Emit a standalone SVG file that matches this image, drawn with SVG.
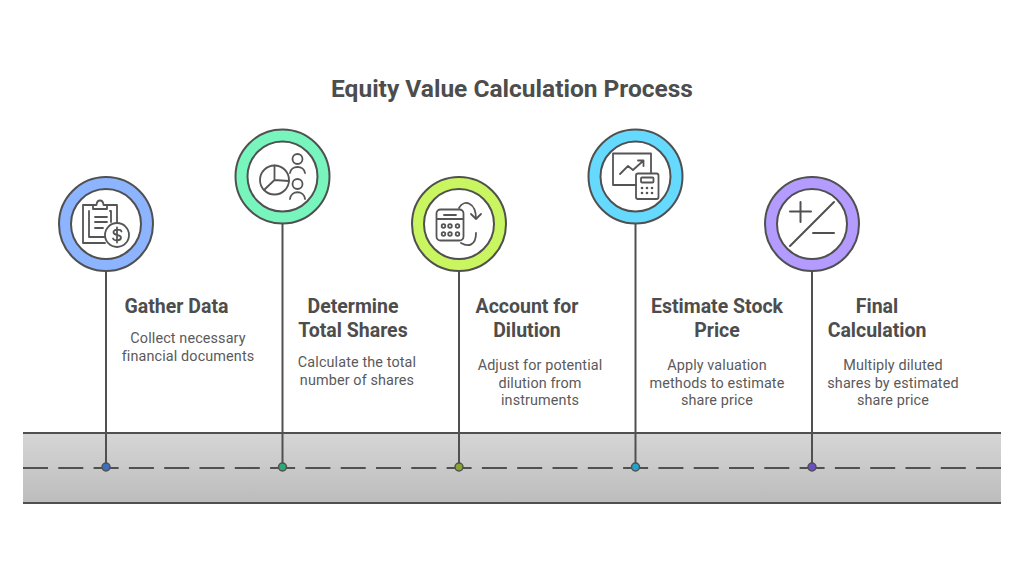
<svg xmlns="http://www.w3.org/2000/svg" width="1024" height="578" viewBox="0 0 1024 578">
<style>
text{font-family:"Roboto","Liberation Sans",sans-serif;text-anchor:middle}
.t{font-size:19.500px;font-weight:700;fill:#4d4d4d}
.d{font-size:14.400px;fill:#5a5a5a;letter-spacing:.12px}
.l{fill:none;stroke:#505050;stroke-width:2;stroke-linecap:round;stroke-linejoin:round}
.b{fill:none;stroke:#505050;stroke-width:2}
.i{fill:none;stroke:#555;stroke-width:1.800;stroke-linecap:round;stroke-linejoin:round}
.o{stroke:#505050;stroke-width:2}
.w{fill:#fff;stroke:#505050;stroke-width:2}
.p{stroke:#505050;stroke-width:1.500}
.f{fill:#555}
</style>
<defs>
<linearGradient id="road" x1="0" y1="0" x2="0" y2="1"><stop offset="0" stop-color="#d6d6d6"/><stop offset="1" stop-color="#bcbcbc"/></linearGradient>
</defs>
<rect width="1024" height="578" fill="#fff"/>
<text x="512" y="97" font-size="24.500" font-weight="700" fill="#4d4d4d">Equity Value Calculation Process</text>
<g id="road-band">
<rect x="23" y="433" width="978" height="70" fill="url(#road)"/>
<path class="b" d="M23 433H1001M23 503H1001"/>
<path class="b" stroke-dasharray="25 10.300" d="M23 468H1001"/>
</g>
<g id="connectors">
<path class="b" d="M106 271V467M282.500 224V467M459 271V467M635.500 224V467M812 271V467"/>
<circle class="p" cx="106" cy="467" r="4" fill="#3b6fc4"/>
<circle class="p" cx="282.500" cy="467" r="4" fill="#2fa878"/>
<circle class="p" cx="459" cy="467" r="4" fill="#86a52e"/>
<circle class="p" cx="635.500" cy="467" r="4" fill="#1fa3cf"/>
<circle class="p" cx="812" cy="467" r="4" fill="#6a4fc4"/>
</g>
<g id="node-gather">
<circle class="o" cx="106" cy="224" r="47" fill="#8cb4ff"/>
<circle class="w" cx="106" cy="224" r="35"/>
<path class="i" d="M105 243H83V205H93M107 205H117V222M93 205V209H107V205H103.500C103 199 97 199 96.500 205H93"/>
<path class="i" d="M105 237H89V211M110 211H111V222M95 217H107M95 222H107M95 228H103"/>
<circle class="i" cx="117" cy="235" r="12"/>
<path class="i" d="M121.500 231.500C120.500 229 113 229 113.500 232.500C114 236 121.500 234 121 238C120.500 241 114 241 113 238.500M117 227.500V242.500"/>
<text class="t" x="176.500" y="313">Gather Data</text>
<text class="d" x="188" y="343">Collect necessary</text>
<text class="d" x="188" y="361">financial documents</text>
</g>
<g id="node-shares">
<circle class="o" cx="282.500" cy="176.500" r="47" fill="#78f5bc"/>
<circle class="w" cx="282.500" cy="176.500" r="35"/>
<circle class="i" cx="274.500" cy="180" r="14.500"/>
<path class="i" d="M274.500 165.500V180L289 181M274.500 180L264 190"/>
<circle class="i" cx="297.500" cy="159" r="5"/>
<path class="i" d="M290 173C291 165 304 165 305 173"/>
<circle class="i" cx="297.500" cy="184" r="5"/>
<path class="i" d="M290 199C291 190 304 190 305 199"/>
<text class="t" x="353" y="313">Determine</text>
<text class="t" x="353" y="336.500">Total Shares</text>
<text class="d" x="357" y="367">Calculate the total</text>
<text class="d" x="357" y="385">number of shares</text>
</g>
<g id="node-dilution">
<circle class="o" cx="459" cy="224" r="47" fill="#c8f560"/>
<circle class="w" cx="459" cy="224" r="35"/>
<rect class="i" x="436.500" y="209.500" width="27" height="31" rx="4"/>
<path class="i" d="M437 219H463M444 215H456"/>
<circle class="i" cx="443.500" cy="226" r="1.800"/><circle class="i" cx="450" cy="226" r="1.800"/><circle class="i" cx="457.500" cy="226" r="1.800"/>
<circle class="i" cx="443.500" cy="234" r="1.800"/><circle class="i" cx="450" cy="234" r="1.800"/><circle class="i" cx="457.500" cy="234" r="1.800"/>
<path class="i" d="M459 208C464 199 476 202 476 219M471 214L476 219L481 214M476 233C476 246 468 247 461 243"/>
<text class="t" x="527" y="313">Account for</text>
<text class="t" x="527" y="336.500">Dilution</text>
<text class="d" x="540" y="370">Adjust for potential</text>
<text class="d" x="540" y="388">dilution from</text>
<text class="d" x="540" y="405">instruments</text>
</g>
<g id="node-price">
<circle class="o" cx="635.500" cy="176.500" r="47" fill="#66d9ff"/>
<circle class="w" cx="635.500" cy="176.500" r="35"/>
<path class="i" d="M636 185H613V153.500H651V173"/>
<path class="i" d="M620 174L628 166L633 170L643 161M638 160.500H643.500V166"/>
<rect class="i" x="636" y="173.500" width="22.500" height="25.500" rx="2"/>
<rect class="i" x="641" y="177.500" width="12.500" height="5" rx="1"/>
<g class="f"><circle cx="642" cy="188" r="1.300"/><circle cx="647" cy="188" r="1.300"/><circle cx="652" cy="188" r="1.300"/><circle cx="642" cy="193" r="1.300"/><circle cx="647" cy="193" r="1.300"/><circle cx="652" cy="193" r="1.300"/></g>
<text class="t" x="717" y="313">Estimate Stock</text>
<text class="t" x="717" y="336.500">Price</text>
<text class="d" x="717" y="370">Apply valuation</text>
<text class="d" x="717" y="388">methods to estimate</text>
<text class="d" x="717" y="405">share price</text>
</g>
<g id="node-final">
<circle class="o" cx="812" cy="224" r="47" fill="#b49bff"/>
<circle class="w" cx="812" cy="224" r="35"/>
<path class="l" d="M790 211.500H811M800.500 202V222M813 233H834M790 246L834 202"/>
<text class="t" x="877" y="313">Final</text>
<text class="t" x="877" y="336.500">Calculation</text>
<text class="d" x="893" y="370">Multiply diluted</text>
<text class="d" x="893" y="388">shares by estimated</text>
<text class="d" x="893" y="405">share price</text>
</g>
</svg>
